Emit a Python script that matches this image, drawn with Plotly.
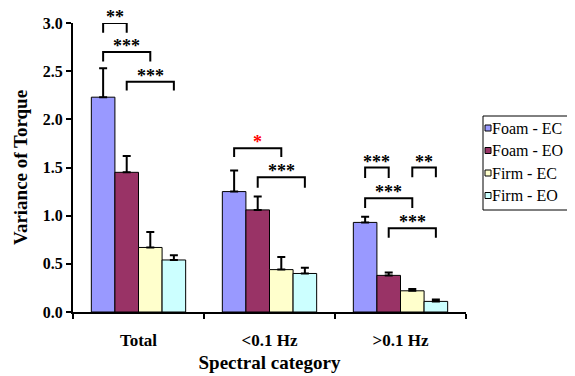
import plotly.graph_objects as go

categories = ["Total", "<0.1 Hz", ">0.1 Hz"]
series_names = ["Foam - EC", "Foam - EO", "Firm - EC", "Firm - EO"]
series_colors = ["#9999FF", "#993366", "#FFFFCC", "#CCFFFF"]
values = {
    "Foam - EC": [2.23, 1.25, 0.93],
    "Foam - EO": [1.45, 1.06, 0.38],
    "Firm - EC": [0.67, 0.44, 0.22],
    "Firm - EO": [0.54, 0.40, 0.11],
}
errors = {
    "Foam - EC": [0.30, 0.22, 0.06],
    "Foam - EO": [0.17, 0.14, 0.03],
    "Firm - EC": [0.16, 0.13, 0.02],
    "Firm - EO": [0.05, 0.06, 0.02],
}
# significance brackets: (category index, bar a, bar b, bracket top y, leg bottom y, label, color)
brackets = [
    (0, 0, 1, 3.00, 2.90, "**", "black"),
    (0, 0, 2, 2.70, 2.60, "***", "black"),
    (0, 1, 3, 2.39, 2.30, "***", "black"),
    (1, 0, 2, 1.70, 1.61, "*", "red"),
    (1, 1, 3, 1.40, 1.29, "***", "black"),
    (2, 0, 1, 1.50, 1.39, "***", "black"),
    (2, 2, 3, 1.50, 1.40, "**", "black"),
    (2, 0, 2, 1.18, 1.08, "***", "black"),
    (2, 1, 3, 0.87, 0.77, "***", "black"),
]

W, H = 575, 376
ML, MR, MT, MB = 65, 117, 15, 72
PW, PH = W - ML - MR, H - MT - MB

bargap = 0.28
nser = len(series_names)

def bar_center(ci, bj):
    w = (1 - bargap) / nser
    return ci - (1 - bargap) / 2 + (bj + 0.5) * w

def px(fx):
    return (fx - ML) / PW

def py(fy):
    return (H - MB - fy) / PH

font_family = "Liberation Serif, Times New Roman, serif"

fig = go.Figure()
for name, color in zip(series_names, series_colors):
    fig.add_trace(go.Bar(
        name=name, x=categories, y=values[name],
        marker=dict(color=color, line=dict(color="black", width=1)),
        error_y=dict(type="data", symmetric=False, array=errors[name],
                     arrayminus=[0] * len(categories), color="black",
                     thickness=2, width=4),
        showlegend=False,
    ))

shapes = []
annotations = []
for ci, a, b, ytop, ybot, label, col in brackets:
    xa, xb = bar_center(ci, a), bar_center(ci, b)
    shapes.append(dict(type="path", xref="x", yref="y",
                       path=f"M {xa} {ybot} L {xa} {ytop} L {xb} {ytop} L {xb} {ybot}",
                       line=dict(color="black", width=2)))
    annotations.append(dict(x=(xa + xb) / 2, y=ytop, xref="x", yref="y",
                            text=f"<b>{label}</b>", showarrow=False,
                            yanchor="bottom", yshift=-6,
                            font=dict(family=font_family, size=18, color=col)))

# legend box drawn in paper coordinates
box_l, box_r, box_t, box_b = 475, 564, 108, 202
shapes.append(dict(type="rect", xref="paper", yref="paper",
                   x0=px(box_l), x1=px(box_r), y0=py(box_b), y1=py(box_t),
                   line=dict(color="black", width=1), fillcolor="white"))
item_y0, item_dy = 120, 22.5
for k, (name, color) in enumerate(zip(series_names, series_colors)):
    cy = item_y0 + k * item_dy
    shapes.append(dict(type="rect", xref="paper", yref="paper",
                       x0=px(477), x1=px(483), y0=py(cy + 3), y1=py(cy - 3),
                       line=dict(color="black", width=1), fillcolor=color))
    annotations.append(dict(x=px(482), y=py(cy), xref="paper", yref="paper",
                            text=name, showarrow=False, xanchor="left",
                            yanchor="middle",
                            font=dict(family=font_family, size=16, color="black")))

fig.update_layout(
    width=W, height=H,
    margin=dict(l=ML, r=MR, t=MT, b=MB, autoexpand=False),
    paper_bgcolor="white", plot_bgcolor="white",
    barmode="group", bargap=bargap, bargroupgap=0,
    font=dict(family=font_family, color="black"),
    shapes=shapes, annotations=annotations,
    showlegend=False,
)
fig.update_xaxes(showline=True, linecolor="black", linewidth=2,
                 ticks="outside", tickson="boundaries", ticklen=5,
                 tickcolor="black", tickwidth=2,
                 tickfont=dict(family=font_family, size=17),
                 ticklabelstandoff=12,
                 tickprefix="<b>", ticksuffix="</b>",
                 title=dict(text="<b>Spectral category</b>",
                            font=dict(family=font_family, size=19), standoff=6),
                 showgrid=False, zeroline=False)
fig.update_yaxes(range=[0, 3], dtick=0.5, tickformat=".1f",
                 showline=True, linecolor="black", linewidth=2,
                 ticks="outside", ticklen=5, tickcolor="black", tickwidth=2,
                 tickfont=dict(family=font_family, size=16),
                 tickprefix="<b>", ticksuffix="</b>",
                 title=dict(text="<b>Variance of Torque</b>",
                            font=dict(family=font_family, size=19), standoff=10),
                 showgrid=False, zeroline=False)

fig.write_html("out.html")
